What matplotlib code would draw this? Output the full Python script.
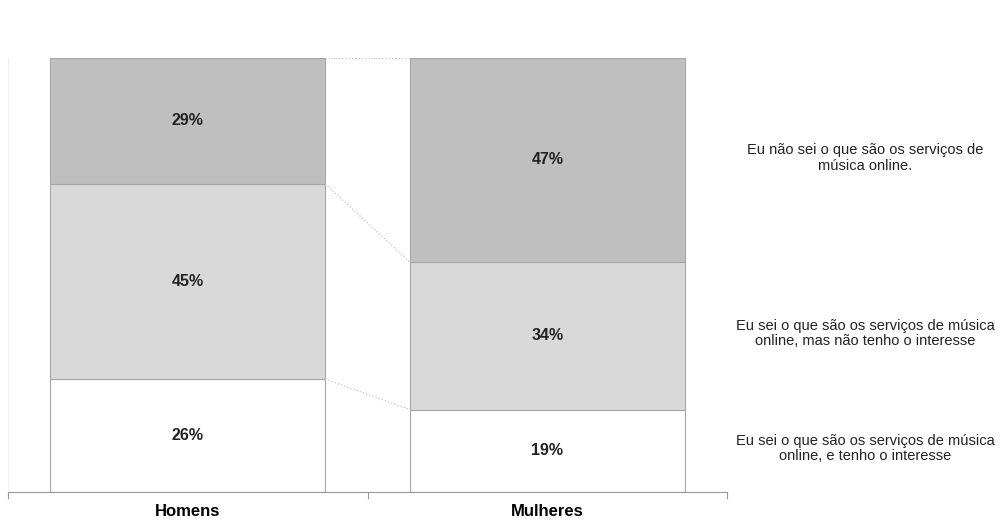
import matplotlib
matplotlib.use("Agg")
import matplotlib.pyplot as plt

plt.rcParams['font.family'] = ['Liberation Sans', 'DejaVu Sans']

categorias = ['Homens', 'Mulheres']
interessados = [26, 19]
sem_interesse = [45, 34]
nao_sabem = [29, 47]
legendas = ['Eu sei o que são os serviços de música\nonline, e tenho o interesse',
            'Eu sei o que são os serviços de música\nonline, mas não tenho o interesse',
            'Eu não sei o que são os serviços de\nmúsica online.']

series = [interessados, sem_interesse, nao_sabem]
cores = ['#ffffff', '#d9d9d9', '#bfbfbf']

fig = plt.figure(figsize=(10, 5.22), dpi=100)
ax = fig.add_axes([0.008, 1 - 492 / 522, 0.719, (492 - 58) / 522])

x = list(range(len(categorias)))
largura = 0.765
base = [0] * len(categorias)
topos = []
for vals, cor in zip(series, cores):
    ax.bar(x, vals, largura, bottom=base, color=cor, edgecolor='#a6a6a6', linewidth=0.8)
    for i, v in enumerate(vals):
        ax.text(x[i], base[i] + v / 2, f'{v}%', ha='center', va='center',
                fontsize=11.5, fontweight='bold', color='#222222')
    base = [b + v for b, v in zip(base, vals)]
    topos.append(list(base))

# linhas de ligação pontilhadas entre as barras
for t in topos:
    ax.plot([x[0] + largura / 2, x[1] - largura / 2], [t[0], t[1]],
            linestyle=(0, (1, 2)), color='#bbbbbb', linewidth=0.8)

# legenda à direita, alinhada com os segmentos de Mulheres
inicio = 0
for vals, txt in zip(series, legendas):
    ax.text(1.885, inicio + vals[1] / 2 + 0.5, txt, ha='center', va='center',
            fontsize=10.5, color='#222222', clip_on=False, linespacing=1.15)
    inicio += vals[1]

ax.set_xlim(-0.5, 1.5)
ax.set_ylim(0, 100)
ax.set_xticks([-0.5, 0.5, 1.5], minor=False)
ax.set_xticklabels([])
ax.set_xticks(x, minor=True)
ax.set_xticklabels(categorias, minor=True, fontsize=12, fontweight='bold')
ax.tick_params(axis='x', which='major', length=5, color='#999999')
ax.tick_params(axis='x', which='minor', length=0, pad=9)
ax.set_yticks([])
for s in ['top', 'right']:
    ax.spines[s].set_visible(False)
ax.spines['left'].set_color('#eeeeee')
ax.spines['bottom'].set_color('#999999')

fig.savefig('out.png', dpi=100)
